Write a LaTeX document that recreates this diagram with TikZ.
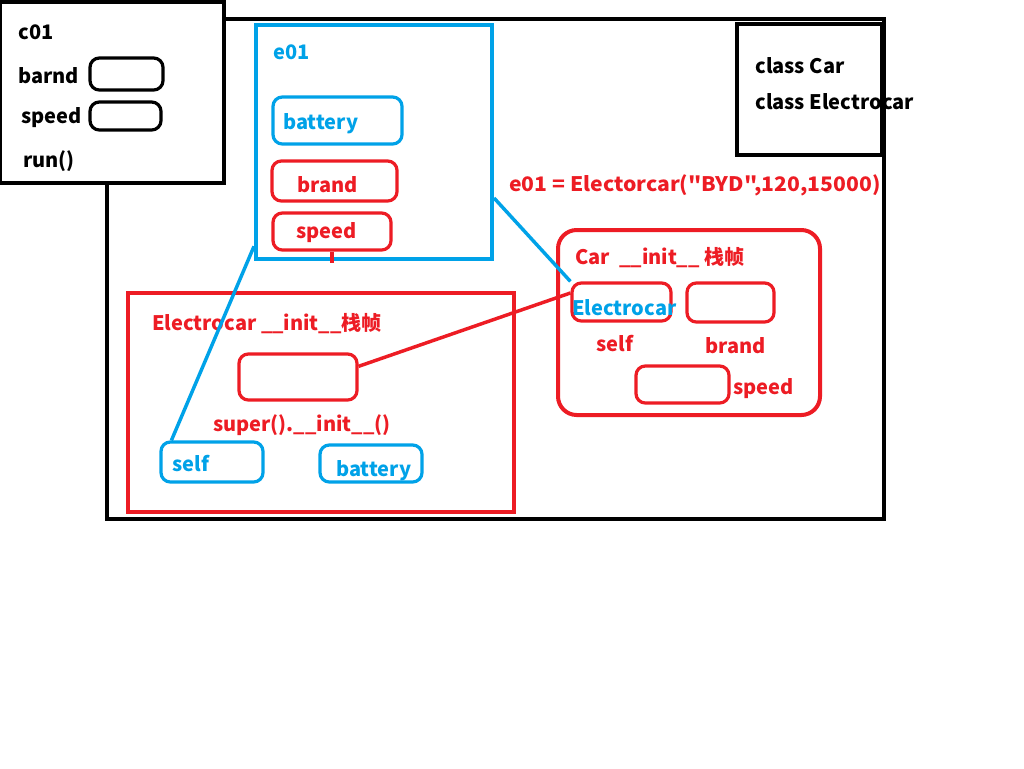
\documentclass[tikz,border=0pt]{standalone}
\usepackage{graphicx}
\usepackage{fontspec}
\setmainfont{Noto Sans CJK SC}[Ligatures=TeXOff]
\usetikzlibrary{fit}
\definecolor{pblue}{HTML}{00A2E8}
\definecolor{pred}{HTML}{ED1C24}
\tikzset{
  frame/.style={draw, line width=3pt, inner sep=0pt},
  slot/.style={draw, line width=2.4pt, rounded corners=7pt, inner sep=0pt},
  txt/.style={anchor=west, inner sep=0pt, yshift=-1.5pt, font=\bfseries\fontsize{15}{18}\selectfont},
  link/.style={line width=2.6pt},
}
\begin{document}
\begin{tikzpicture}[x=0.75pt, y=-0.75pt]
\useasboundingbox[fill=white] (0,0) rectangle (1024,768);
% outer memory box
\node[frame, fit={(107,19) (884,519)}] (mem) {};
% class box
\node[frame, fit={(737,24) (882,155)}] (cls) {};
% c01 object
\node[frame, fill=white, fit={(0,2) (224,183)}] (c01) {};
\node[slot, fit={(90,58) (163,90)}] (c01b) {};
\node[slot, fit={(90,102) (161,130)}] (c01s) {};
\node[txt] (tc01) at (18,30) {c01};
\node[txt] (tbarnd) at (18,74) {barnd};
\node[txt] (tspeed1) at (21,116) {speed};
\node[txt] (trun) at (23,159) {run()};
% e01 object
\node[frame, draw=pblue, fit={(256,25) (492,259)}] (e01) {};
\node[slot, draw=pblue, fit={(273,97) (402,144)}] (e01bat) {};
\node[slot, draw=pred, fit={(272,161) (397,201)}] (e01br) {};
\node[slot, draw=pred, fit={(273,213) (391,250)}] (e01sp) {};
\node[txt, text=pblue] (te01) at (273,50) {e01};
\node[txt, text=pblue] (tbat1) at (283,122) {battery};
\node[txt, text=pred] (tbr1) at (297,183) {brand};
\node[txt, text=pred] (tsp2) at (296,231) {speed};
\coordinate (stub) at (332,263);
\draw[pred, line width=3pt] (e01sp.south) -- (stub);
% class text
\node[txt] (tcar) at (755,64) {class Car};
\node[txt] (tecar) at (755,100) {class Electrocar};
% call text
\node[txt, text=pred] (tcall) at (509,183) {\scalebox{1.057}[1]{e01 = Electorcar("BYD",120,15000)}};
% Car __init__ frame
\node[frame, draw=pred, rounded corners=14pt, fit={(558,230) (820,415)}] (carf) {};
\node[slot, draw=pred, fit={(572,283) (671,321)}] (cself) {};
\node[slot, draw=pred, fit={(687,283) (774,322)}] (cbrand) {};
\node[slot, draw=pred, fit={(636,366) (729,403)}] (cspeed) {};
\node[txt, text=pred] (tcarf) at (575,256) {Car\ \ \_\_init\_\_ 栈帧};
\node[txt, text=pblue] (tecar2) at (572,306) {Electrocar};
\node[txt, text=pred] (tself2) at (596,342) {self};
\node[txt, text=pred] (tbr2) at (705,344) {brand};
\node[txt, text=pred] (tsp3) at (733,387) {speed};
% Electrocar __init__ frame
\node[frame, draw=pred, fit={(128,293) (514,512)}] (ef) {};
\node[slot, draw=pred, fit={(239,354) (357,400)}] (sup) {};
\node[slot, draw=pblue, fit={(161,442) (263,482)}] (eself) {};
\node[slot, draw=pblue, fit={(320,445) (422,482)}] (ebat) {};
\node[txt, text=pred] (tef) at (152,322) {Electrocar \_\_init\_\_栈帧};
\node[txt, text=pred] (tsup) at (213,423) {super().\_\_init\_\_()};
\node[txt, text=pblue] (tself1) at (172,462) {self};
\node[txt, text=pblue] (tbat2) at (336,469) {battery};
% connectors
\draw[link, pblue] (e01.-25) -- (cself.north west);
\draw[link, pblue] (e01.-139) -- ([xshift=9pt]eself.north west);
\draw[link, pred] (sup.10) -- (cself.170);
\end{tikzpicture}
\end{document}
